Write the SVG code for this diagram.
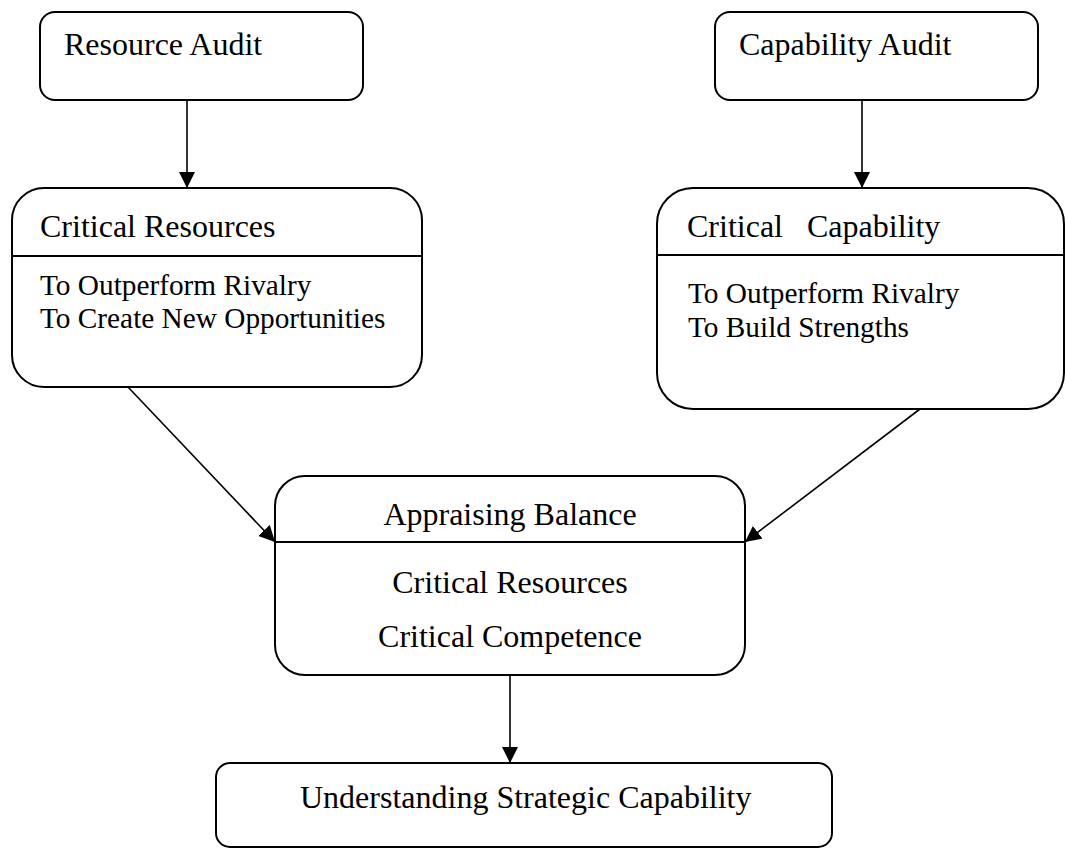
<svg xmlns="http://www.w3.org/2000/svg" width="1065" height="848" viewBox="0 0 1065 848">
  <style>
    .box { fill: #ffffff; stroke: #000000; stroke-width: 2; }
    .rule { stroke: #000000; stroke-width: 2; }
    .edge { stroke: #000000; stroke-width: 1.6; fill: none; marker-end: url(#arrow); }
    .head { font-family: "Liberation Serif", "Times New Roman", serif; font-size: 32px; fill: #000000; }
    .body { font-family: "Liberation Serif", "Times New Roman", serif; font-size: 29.3px; fill: #000000; }
    .mid { text-anchor: middle; }
  </style>
  <defs>
    <marker id="arrow" markerUnits="userSpaceOnUse" markerWidth="16" markerHeight="16" viewBox="0 0 16 16" refX="16" refY="8" orient="auto">
      <path d="M0,0 L16,8 L0,16 Z" fill="#000000"/>
    </marker>
  </defs>

  <!-- connectors -->
  <g id="connectors">
    <line class="edge" x1="187" y1="100" x2="187" y2="188"/>
    <line class="edge" x1="862" y1="100" x2="862" y2="188"/>
    <line class="edge" x1="128" y1="387" x2="275" y2="542"/>
    <line class="edge" x1="920" y1="409" x2="745" y2="542"/>
    <line class="edge" x1="510" y1="675" x2="510" y2="763"/>
  </g>

  <g id="resource-audit">
    <rect class="box" x="40" y="12" width="323" height="88" rx="15" ry="15"/>
    <text class="head" x="64" y="55">Resource Audit</text>
  </g>

  <g id="capability-audit">
    <rect class="box" x="715" y="12" width="323" height="88" rx="15" ry="15"/>
    <text class="head" x="739" y="55">Capability Audit</text>
  </g>

  <g id="critical-resources">
    <rect class="box" x="12" y="188" width="410" height="199" rx="32" ry="32"/>
    <line class="rule" x1="12" y1="256" x2="422" y2="256"/>
    <text class="head" x="40" y="237">Critical Resources</text>
    <text class="body" x="40" y="295">To Outperform Rivalry</text>
    <text class="body" x="40" y="328">To Create New Opportunities</text>
  </g>

  <g id="critical-capability">
    <rect class="box" x="657" y="188" width="407" height="221" rx="36" ry="36"/>
    <line class="rule" x1="657" y1="255" x2="1064" y2="255"/>
    <text class="head" x="687" y="237">Critical<tspan x="807">Capability</tspan></text>
    <text class="body" x="688" y="303">To Outperform Rivalry</text>
    <text class="body" x="688" y="337">To Build Strengths</text>
  </g>

  <g id="appraising-balance">
    <rect class="box" x="275" y="476" width="470" height="199" rx="30" ry="30"/>
    <line class="rule" x1="275" y1="542" x2="745" y2="542"/>
    <text class="head mid" x="510" y="525">Appraising Balance</text>
    <text class="head mid" x="510" y="593">Critical Resources</text>
    <text class="head mid" x="510" y="647">Critical Competence</text>
  </g>

  <g id="understanding-strategic-capability">
    <rect class="box" x="216" y="763" width="616" height="84" rx="14" ry="14"/>
    <text class="head" x="300" y="808">Understanding Strategic Capability</text>
  </g>
</svg>
